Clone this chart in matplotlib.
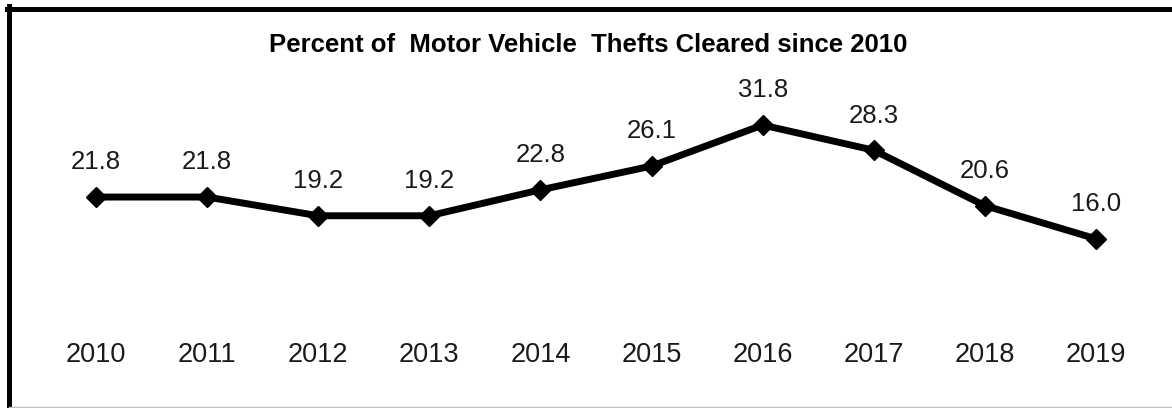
import matplotlib.pyplot as plt
from matplotlib.lines import Line2D

years = ['2010', '2011', '2012', '2013', '2014', '2015', '2016', '2017', '2018', '2019']
cleared_pct = [21.8, 21.8, 19.2, 19.2, 22.8, 26.1, 31.8, 28.3, 20.6, 16.0]

plt.rcParams['font.family'] = ['Liberation Sans', 'DejaVu Sans']

W, H = 1172, 408
fig = plt.figure(figsize=(W / 100, H / 100), dpi=100)

# axes placed so points land where the reference puts them
ax = fig.add_axes([40.5 / W, (H - 318) / H, 1111 / W, (318 - 80.4) / H])
x = list(range(len(years)))
ax.plot(x, cleared_pct, color='black', linewidth=5, marker='D',
        markersize=10, markeredgewidth=1, solid_joinstyle='miter')
ax.set_xlim(-0.5, len(years) - 0.5)
ax.set_ylim(5, 38)

for xi, v in zip(x, cleared_pct):
    ax.annotate(f'{v:.1f}', (xi, v), xytext=(0, 25), textcoords='offset points',
                ha='center', va='center', fontsize=18.5, color='#1a1a1a')

ax.set_xticks(x)
ax.set_xticklabels(years, fontsize=19.5, color='#1a1a1a')
ax.tick_params(axis='x', length=0, pad=17)
ax.set_yticks([])
for s in ax.spines.values():
    s.set_visible(False)

fig.text(588 / W, (H - 45) / H, 'Percent of  Motor Vehicle  Thefts Cleared since 2010',
         ha='center', va='center', fontsize=18.5, fontweight='bold')

# chart frame: heavy black left/top, thin grey bottom
fig.add_artist(Line2D([9.5 / W, 9.5 / W], [0, (H - 6) / H], color='black', linewidth=3.6,
                      transform=fig.transFigure))
fig.add_artist(Line2D([7 / W, 1], [(H - 8.5) / H, (H - 8.5) / H], color='black', linewidth=3.6,
                      transform=fig.transFigure))
fig.add_artist(Line2D([9.5 / W, 1], [0.7 / H, 0.7 / H], color='#c0c0c0', linewidth=1,
                      transform=fig.transFigure))

fig.savefig('out.png', dpi=100)
